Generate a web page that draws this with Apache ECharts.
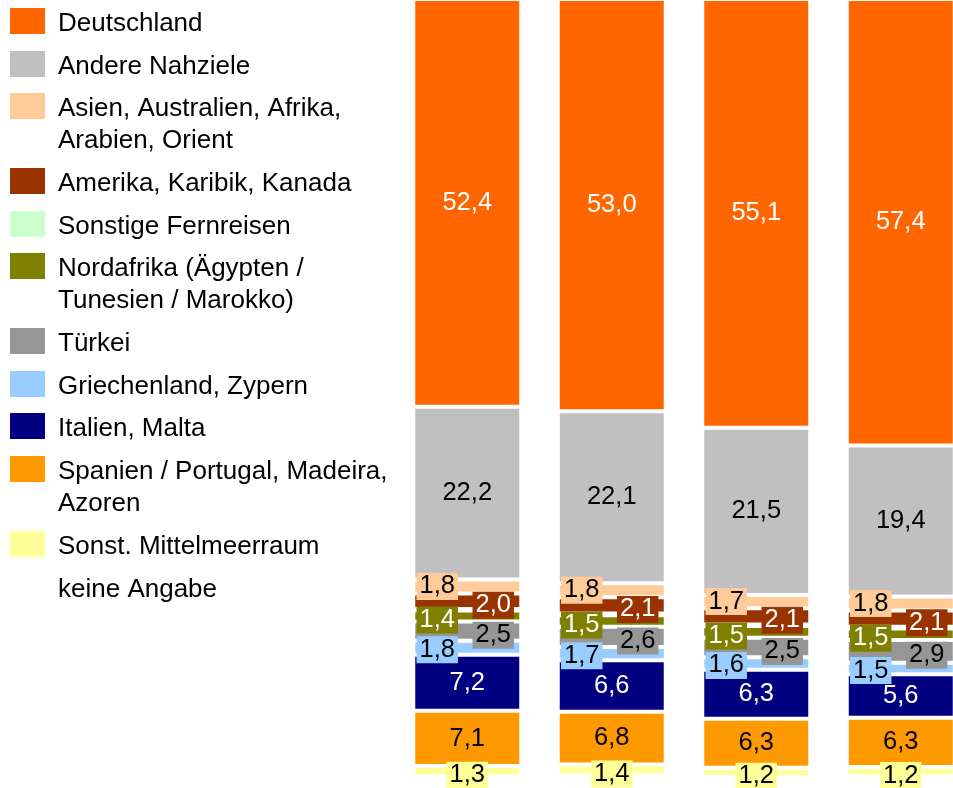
<!DOCTYPE html>
<html>
<head>
<meta charset="utf-8">
<script src="https://cdn.jsdelivr.net/npm/echarts@6/dist/echarts.min.js"></script>
<style>
html, body { margin: 0; padding: 0; background: #fff; }
#chart { width: 953px; height: 788px; }
</style>
</head>
<body>
<div id="chart"></div>
<script>
var categories = ['1', '2', '3', '4'];

var deutschland = [52.4, 53.0, 55.1, 57.4];
var andereNahziele = [22.2, 22.1, 21.5, 19.4];
var asien = [1.8, 1.8, 1.7, 1.8];
var amerika = [2.0, 2.1, 2.1, 2.1];
var sonstigeFernreisen = [0.2, 0.2, 0.2, 0.2];
var nordafrika = [1.4, 1.5, 1.5, 1.5];
var tuerkei = [2.5, 2.6, 2.5, 2.9];
var griechenland = [1.8, 1.7, 1.6, 1.5];
var italien = [7.2, 6.6, 6.3, 5.6];
var spanien = [7.1, 6.8, 6.3, 6.3];
var mittelmeer = [1.3, 1.4, 1.2, 1.2];
var keineAngabe = [0.1, 0.2, 0.0, 0.1];

// legend order = top of the stack first
var seriesNames = ['Deutschland', 'Andere Nahziele', 'Asien, Australien, Afrika, Arabien, Orient',
    'Amerika, Karibik, Kanada', 'Sonstige Fernreisen', 'Nordafrika (Ägypten / Tunesien / Marokko)',
    'Türkei', 'Griechenland, Zypern', 'Italien, Malta', 'Spanien / Portugal, Madeira, Azoren',
    'Sonst. Mittelmeerraum', 'keine Angabe'];
var legendLabels = ['Deutschland', 'Andere Nahziele', 'Asien, Australien, Afrika,\nArabien, Orient',
    'Amerika, Karibik, Kanada', 'Sonstige Fernreisen', 'Nordafrika (Ägypten /\nTunesien / Marokko)',
    'Türkei', 'Griechenland, Zypern', 'Italien, Malta', 'Spanien / Portugal, Madeira,\nAzoren',
    'Sonst. Mittelmeerraum', 'keine Angabe'];
var seriesValues = [deutschland, andereNahziele, asien, amerika, sonstigeFernreisen, nordafrika,
    tuerkei, griechenland, italien, spanien, mittelmeer, keineAngabe];

var colors = ['#FF6600', '#C0C0C0', '#FFCC99', '#993300', '#CCFFCC', '#808000',
    '#969696', '#99CCFF', '#000080', '#FF9900', '#FFFF99', 'transparent'];
var labelColors = ['#fff', '#000', '#000', '#fff', '#000', '#fff',
    '#000', '#000', '#fff', '#000', '#000', '#000'];

var font = '"Liberation Sans", Arial, sans-serif';

// small segments: label in a coloured box, pushed left / right
var labelShift = {2: [-30, 0], 3: [26, 4], 5: [-30, 4], 6: [26, 4], 7: [-30, 2], 10: [0, 4]};
var noLabel = {4: true, 11: true};

function fmt(v) {
    return v.toFixed(1).replace('.', ',');
}

var chart = echarts.init(document.getElementById('chart'));

var series = [];
for (var i = seriesNames.length - 1; i >= 0; i--) {
    var boxed = labelShift[i] !== undefined;
    series.push({
        name: seriesNames[i],
        type: 'bar',
        stack: 'total',
        barWidth: 108,
        data: seriesValues[i],
        itemStyle: {color: colors[i], borderColor: '#fff', borderWidth: 2},
        label: {
            show: !noLabel[i],
            position: 'inside',
            formatter: function (p) { return fmt(p.value); },
            color: labelColors[i],
            fontFamily: font,
            fontSize: 25.5,
            lineHeight: 25,
            offset: boxed ? labelShift[i] : [0, 0],
            backgroundColor: boxed ? colors[i] : 'transparent',
            padding: boxed ? [1, 3] : 0
        }
    });
}

// one legend per entry so the swatch sits on the first text line;
// continuation lines are plain text underneath
var legends = [];
var extraText = [];
var extraLines = 0;
for (var k = 0; k < seriesNames.length; k++) {
    var parts = legendLabels[k].split('\n');
    var legendTop = Math.round(8 + 42.6 * k + 32.3 * extraLines);
    legends.push({
        left: 10,
        top: legendTop,
        padding: 0,
        orient: 'vertical',
        selectedMode: false,
        data: [seriesNames[k]],
        // swatch 35x26 in the top of a 35x32 box (tiny dot keeps the box height)
        icon: 'path://M0,0H35V26H0Z M0,32H0.01V31.99Z',
        itemWidth: 35,
        itemHeight: 32,
        itemStyle: {borderWidth: 0},
        formatter: function (name) { return legendLabels[seriesNames.indexOf(name)].split('\n')[0]; },
        textStyle: {fontFamily: font, fontSize: 26, color: '#000', lineHeight: 32, padding: [0, 0, 0, 8]}
    });
    for (var j = 1; j < parts.length; j++) {
        extraText.push({
            type: 'text',
            x: 58,
            y: legendTop + 16 + 32.3 * j,
            style: {text: parts[j], fontFamily: font, fontSize: 26, fill: '#000', verticalAlign: 'middle'}
        });
    }
    extraLines += parts.length - 1;
}

chart.setOption({
    animation: false,
    legend: legends,
    graphic: extraText,
    grid: {left: 395, width: 578, top: -1, height: 778, outerBoundsMode: 'none'},
    xAxis: {type: 'category', data: categories, show: false},
    yAxis: {type: 'value', min: 0, max: 100, show: false},
    series: series
});
</script>
</body>
</html>
